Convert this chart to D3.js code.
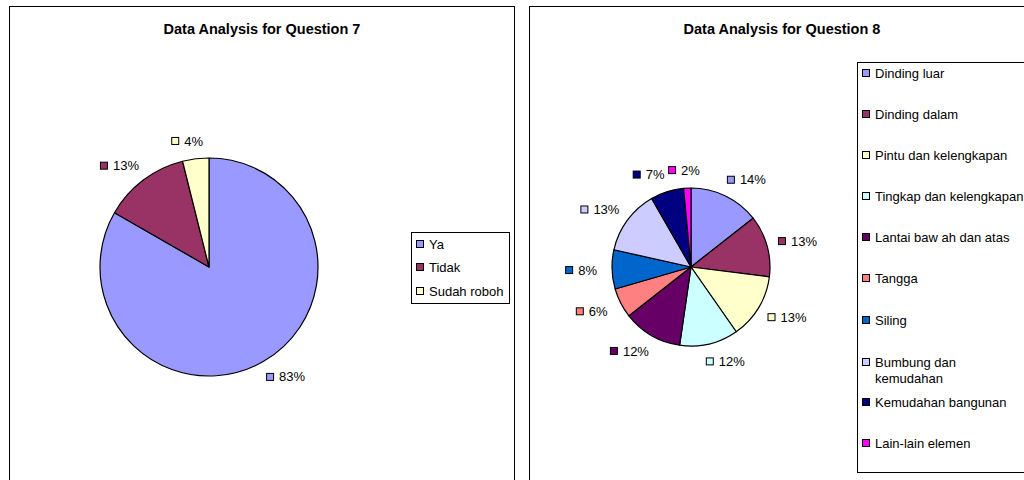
<!DOCTYPE html>
<html>
<head>
<meta charset="utf-8">
<script src="https://cdn.jsdelivr.net/npm/d3@7"></script>
<style>
  body { margin: 0; background: #fff; }
  svg { display: block; font-family: "Liberation Sans", Arial, sans-serif; }
</style>
</head>
<body>
<svg id="chart" width="1024" height="480"></svg>
<script>
// Question 7
const categories7 = ["Ya", "Tidak", "Sudah roboh"];
const values7 = [83.3, 12.8, 3.9];
const colors7 = ["#9999FF", "#993366", "#FFFFCC"];

// Question 8
const categories8 = ["Dinding luar", "Dinding dalam", "Pintu dan kelengkapan",
  "Tingkap dan kelengkapan", "Lantai baw ah dan atas", "Tangga", "Siling",
  "Bumbung dan kemudahan", "Kemudahan bangunan", "Lain-lain elemen"];
const values8 = [14.4, 12.6, 13.3, 12.0, 12.1, 6.1, 8.0, 13.2, 6.8, 1.5];
const colors8 = ["#9999FF", "#993366", "#FFFFCC", "#CCFFFF", "#660066",
  "#FF8080", "#0066CC", "#CCCCFF", "#000080", "#FF00FF"];
const wrapped8 = { "Bumbung dan kemudahan": ["Bumbung dan", "kemudahan"] };

const svg = d3.select('#chart');

function drawPanel(opt) {
    let g = svg.append('g');

    // chart area frame
    g.append('rect')
        .attr('x', opt.frame[0] + 0.5)
        .attr('y', opt.frame[1] + 0.5)
        .attr('width', opt.frame[2])
        .attr('height', opt.frame[3])
        .attr('fill', '#fff')
        .attr('stroke', '#000');

    g.append('text')
        .attr('x', opt.titleX)
        .attr('y', 34)
        .attr('text-anchor', 'middle')
        .style('font-weight', 'bold')
        .style('font-size', '14.5px')
        .text(opt.title);

    let pie = d3.pie().sort(null).value((d) => d.value);
    let arc = d3.arc().innerRadius(0).outerRadius(opt.r);
    let data = opt.cats.map((c, i) => ({ name: c, value: opt.vals[i], color: opt.colors[i] }));
    let total = d3.sum(opt.vals);
    let arcs = pie(data);

    let pg = g.append('g')
        .attr('transform', 'translate(' + opt.cx + ',' + opt.cy + ')');

    pg.selectAll('path').data(arcs).enter()
        .append('path')
        .attr('d', arc)
        .attr('fill', (d) => d.data.color)
        .attr('stroke', '#000')
        .attr('stroke-width', 1.2)
        .attr('stroke-linejoin', 'round');

    // data labels: marker square + percentage
    arcs.forEach((d) => {
        let a = (d.startAngle + d.endAngle) / 2;
        let s = Math.sin(a), c = Math.cos(a);
        let lx = s * (opt.r + 18) + 13 * Math.sign(s) * Math.min(1, Math.abs(s) * 4);
        let ly = -c * (opt.r + 18);
        let lg = pg.append('g');
        let t = lg.append('text')
            .attr('dy', '0.35em')
            .style('font-size', '13px')
            .text(Math.round(d.value / total * 100) + '%');
        let w = 13 + t.node().getComputedTextLength();
        let x0 = lx - w / 2;
        t.attr('x', x0 + 13).attr('y', ly);
        lg.append('rect')
            .attr('x', x0 + 0.5)
            .attr('y', ly - 3.5)
            .attr('width', 7)
            .attr('height', 7)
            .attr('fill', d.data.color)
            .attr('stroke', '#000');
    });

    // legend
    let lgd = g.append('g');
    lgd.append('rect')
        .attr('x', opt.legend.x + 0.5)
        .attr('y', opt.legend.y + 0.5)
        .attr('width', opt.legend.w)
        .attr('height', opt.legend.h)
        .attr('fill', '#fff')
        .attr('stroke', '#000');

    data.forEach((d, i) => {
        let ry = opt.legend.rows[i];
        lgd.append('rect')
            .attr('x', opt.legend.x + 5.5)
            .attr('y', ry - 3.5)
            .attr('width', 7)
            .attr('height', 7)
            .attr('fill', d.color)
            .attr('stroke', '#000');
        let lines = (opt.wrapped && opt.wrapped[d.name]) || [d.name];
        lines.forEach((ln, k) => {
            lgd.append('text')
                .attr('x', opt.legend.x + 18)
                .attr('y', ry + k * 16)
                .attr('dy', '0.35em')
                .style('font-size', '13px')
                .text(ln);
        });
    });
}

drawPanel({
    frame: [9, 6, 505, 500],
    title: 'Data Analysis for Question 7',
    titleX: 262,
    cats: categories7, vals: values7, colors: colors7,
    cx: 209, cy: 267, r: 109,
    legend: { x: 411, y: 232, w: 98, h: 71, rows: [244, 267, 291] }
});

drawPanel({
    frame: [529, 6, 520, 500],
    title: 'Data Analysis for Question 8',
    titleX: 782,
    cats: categories8, vals: values8, colors: colors8,
    cx: 691, cy: 267, r: 79,
    wrapped: wrapped8,
    legend: { x: 857, y: 62, w: 185, h: 410,
              rows: [73, 114, 155, 196, 237, 278, 320, 362, 402, 443] }
});
</script>
</body>
</html>
